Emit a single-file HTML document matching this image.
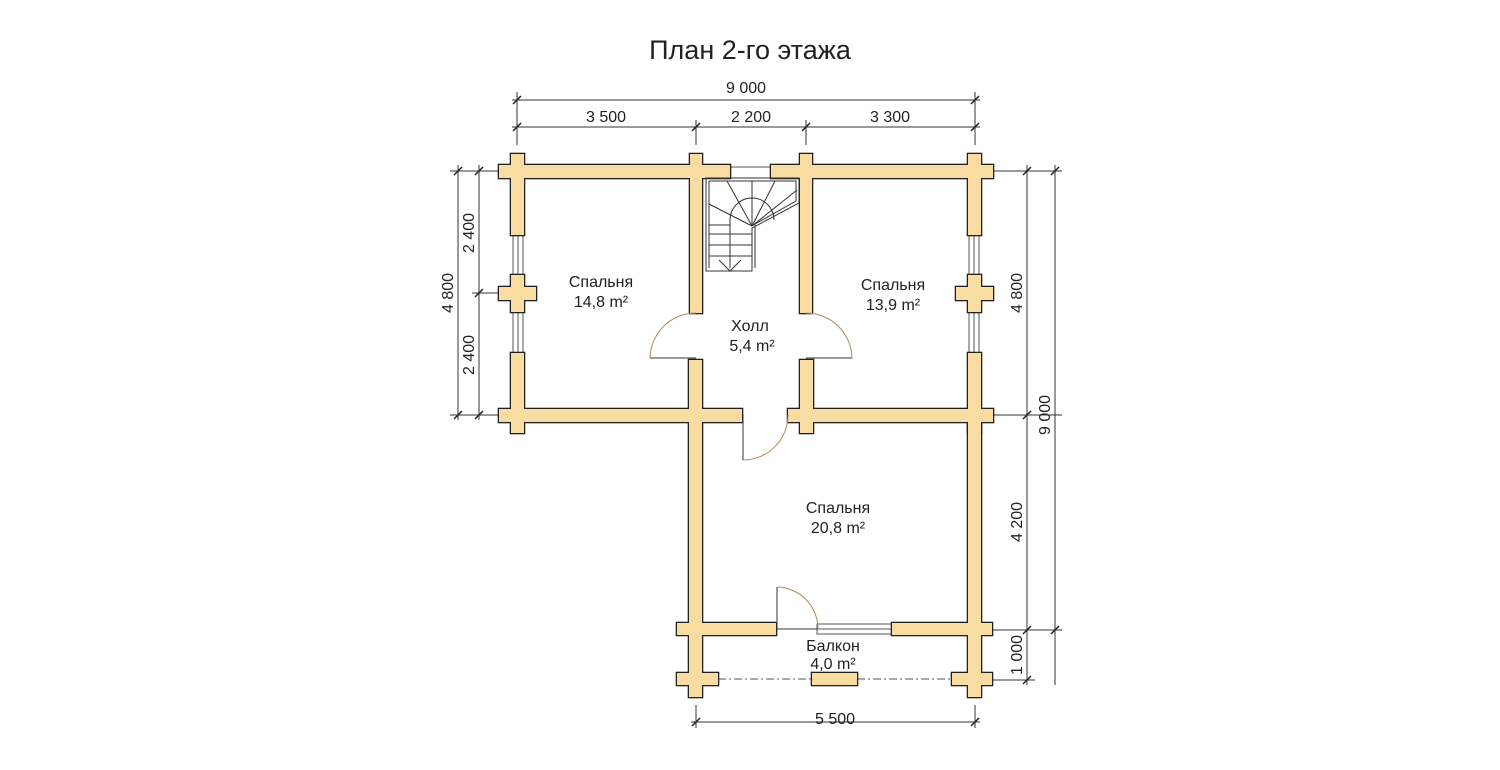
<!DOCTYPE html>
<html><head><meta charset="utf-8"><style>
html,body{margin:0;padding:0;background:#fff;}
svg{display:block;}
text{font-family:"Liberation Sans",sans-serif;fill:#222;}
</style></head><body>
<svg width="1500" height="770" viewBox="0 0 1500 770" xmlns="http://www.w3.org/2000/svg">
<defs>
<g id="walls">
<rect x="499" y="165" width="231" height="13"/>
<rect x="771" y="165" width="222" height="13"/>
<rect x="511" y="154" width="13" height="81"/>
<rect x="511" y="353" width="13" height="80"/>
<rect x="499" y="287" width="37" height="13"/>
<rect x="511" y="275" width="13" height="37"/>
<rect x="968" y="154" width="13" height="81"/>
<rect x="968" y="353" width="13" height="80"/>
<rect x="956" y="287" width="37" height="13"/>
<rect x="968" y="275" width="13" height="37"/>
<rect x="499" y="409" width="243" height="13"/>
<rect x="788" y="409" width="205" height="13"/>
<rect x="690" y="154" width="12" height="159"/>
<rect x="800" y="154" width="12" height="159"/>
<rect x="689" y="360" width="13" height="337"/>
<rect x="800" y="360" width="13" height="73"/>
<rect x="968" y="409" width="13" height="288"/>
<rect x="677" y="623" width="99" height="12"/>
<rect x="892" y="623" width="100" height="12"/>
<rect x="677" y="673" width="41" height="12"/>
<rect x="952" y="673" width="40" height="12"/>
<rect x="812" y="673" width="45" height="12"/>
</g>
</defs>
<text x="750" y="59" font-size="27" text-anchor="middle">План 2-го этажа</text>

<g stroke="#333" stroke-width="1" fill="none">
<line x1="512" y1="100" x2="980" y2="100"/>
<line x1="512" y1="127" x2="980" y2="127"/>
<line x1="517" y1="92" x2="517" y2="145"/>
<line x1="975" y1="92" x2="975" y2="145"/>
<line x1="696" y1="120" x2="696" y2="145"/>
<line x1="806" y1="120" x2="806" y2="145"/>
<line x1="458" y1="165" x2="458" y2="420"/>
<line x1="479" y1="165" x2="479" y2="420"/>
<line x1="450" y1="171" x2="500" y2="171"/>
<line x1="450" y1="415" x2="500" y2="415"/>
<line x1="472" y1="293" x2="500" y2="293"/>
<line x1="1027" y1="165" x2="1027" y2="685"/>
<line x1="1055" y1="165" x2="1055" y2="685"/>
<line x1="992" y1="171" x2="1062" y2="171"/>
<line x1="992" y1="415" x2="1062" y2="415"/>
<line x1="992" y1="630" x2="1062" y2="630"/>
<line x1="992" y1="680" x2="1035" y2="680"/>
<line x1="691" y1="722" x2="980" y2="722"/>
<line x1="696" y1="705" x2="696" y2="728"/>
<line x1="975" y1="705" x2="975" y2="728"/>
</g>
<g stroke="#222" stroke-width="1.5">
<line x1="513" y1="104" x2="521" y2="96"/><line x1="971" y1="104" x2="979" y2="96"/>
<line x1="513" y1="131" x2="521" y2="123"/><line x1="692" y1="131" x2="700" y2="123"/><line x1="802" y1="131" x2="810" y2="123"/><line x1="971" y1="131" x2="979" y2="123"/>
<line x1="454" y1="175" x2="462" y2="167"/><line x1="475" y1="175" x2="483" y2="167"/>
<line x1="454" y1="419" x2="462" y2="411"/><line x1="475" y1="419" x2="483" y2="411"/>
<line x1="475" y1="297" x2="483" y2="289"/>
<line x1="1023" y1="175" x2="1031" y2="167"/><line x1="1051" y1="175" x2="1059" y2="167"/>
<line x1="1023" y1="419" x2="1031" y2="411"/><line x1="1023" y1="634" x2="1031" y2="626"/><line x1="1051" y1="634" x2="1059" y2="626"/>
<line x1="1023" y1="684" x2="1031" y2="676"/>
<line x1="692" y1="726" x2="700" y2="718"/><line x1="971" y1="726" x2="979" y2="718"/>
</g>
<g font-size="16" text-anchor="middle">
<text x="746" y="93">9 000</text>
<text x="606" y="122">3 500</text>
<text x="751" y="122">2 200</text>
<text x="890" y="122">3 300</text>
<text x="835" y="724">5 500</text>
<text transform="translate(453,293) rotate(-90)">4 800</text>
<text transform="translate(474,233) rotate(-90)">2 400</text>
<text transform="translate(474,355) rotate(-90)">2 400</text>
<text transform="translate(1022,293) rotate(-90)">4 800</text>
<text transform="translate(1022,522) rotate(-90)">4 200</text>
<text transform="translate(1022,655) rotate(-90)">1 000</text>
<text transform="translate(1050,415) rotate(-90)">9 000</text>
</g>

<g fill="#fff" stroke="#555" stroke-width="1">
<rect x="730" y="167" width="41" height="11"/>
<rect x="513" y="235" width="10" height="40"/><line x1="518" y1="235" x2="518" y2="275"/>
<rect x="513" y="312" width="10" height="41"/><line x1="518" y1="312" x2="518" y2="353"/>
<rect x="969" y="235" width="10" height="40"/><line x1="974" y1="235" x2="974" y2="275"/>
<rect x="969" y="312" width="10" height="41"/><line x1="974" y1="312" x2="974" y2="353"/>
<rect x="817" y="624" width="75" height="10"/><line x1="817" y1="629" x2="892" y2="629"/>
<line x1="718" y1="679" x2="812" y2="679" stroke-dasharray="8,3,2,3"/>
<line x1="857" y1="679" x2="952" y2="679" stroke-dasharray="8,3,2,3"/>
</g>

<use href="#walls" fill="#222" stroke="#222" stroke-width="2.6"/>
<use href="#walls" fill="#f8dca2" stroke="none"/>

<g fill="none" stroke="#333" stroke-width="1">
<line x1="650" y1="358" x2="696" y2="358"/>
<line x1="806" y1="358" x2="852" y2="358"/>
<line x1="743" y1="415" x2="743" y2="460"/>
<line x1="777" y1="587" x2="777" y2="629"/>
<line x1="777" y1="629" x2="817" y2="629"/>
</g>
<g fill="none" stroke="#b08a5a" stroke-width="1">
<path d="M650 358 A46 46 0 0 1 696 313"/>
<path d="M852 358 A46 46 0 0 0 806 313"/>
<path d="M743 460 A45 45 0 0 0 788 415"/>
<path d="M777 587 A42 42 0 0 1 818 629"/>
</g>

<g fill="none" stroke="#333" stroke-width="1">
<path d="M706 178 L799 178 L799 203 L752 228 L752 271 L706 271 Z"/>
<path d="M709 181 L796 181 L796 201 L755 224 L755 268"/>
<line x1="709" y1="181" x2="709" y2="268"/>
<line x1="709" y1="225" x2="730" y2="225"/>
<line x1="709" y1="234" x2="752" y2="234"/>
<line x1="709" y1="245" x2="752" y2="245"/>
<line x1="709" y1="256" x2="752" y2="256"/>
<path d="M730 268 L730 220 A22 22 0 0 1 774 220"/>
<line x1="752" y1="226" x2="727" y2="181"/>
<line x1="752" y1="226" x2="752" y2="181"/>
<line x1="752" y1="226" x2="775" y2="181"/>
<line x1="752" y1="226" x2="709" y2="204"/>
<line x1="752" y1="226" x2="797" y2="190"/>
<path d="M719 260 L730 271 L741 260"/>
</g>

<g font-size="16" text-anchor="middle">
<text x="601" y="287">Спальня</text>
<text x="601" y="307">14,8 m²</text>
<text x="750" y="331">Холл</text>
<text x="752" y="351">5,4 m²</text>
<text x="893" y="290">Спальня</text>
<text x="893" y="310">13,9 m²</text>
<text x="838" y="513">Спальня</text>
<text x="838" y="533">20,8 m²</text>
<text x="833" y="651">Балкон</text>
<text x="833" y="669">4,0 m²</text>
</g>
</svg>
</body></html>
